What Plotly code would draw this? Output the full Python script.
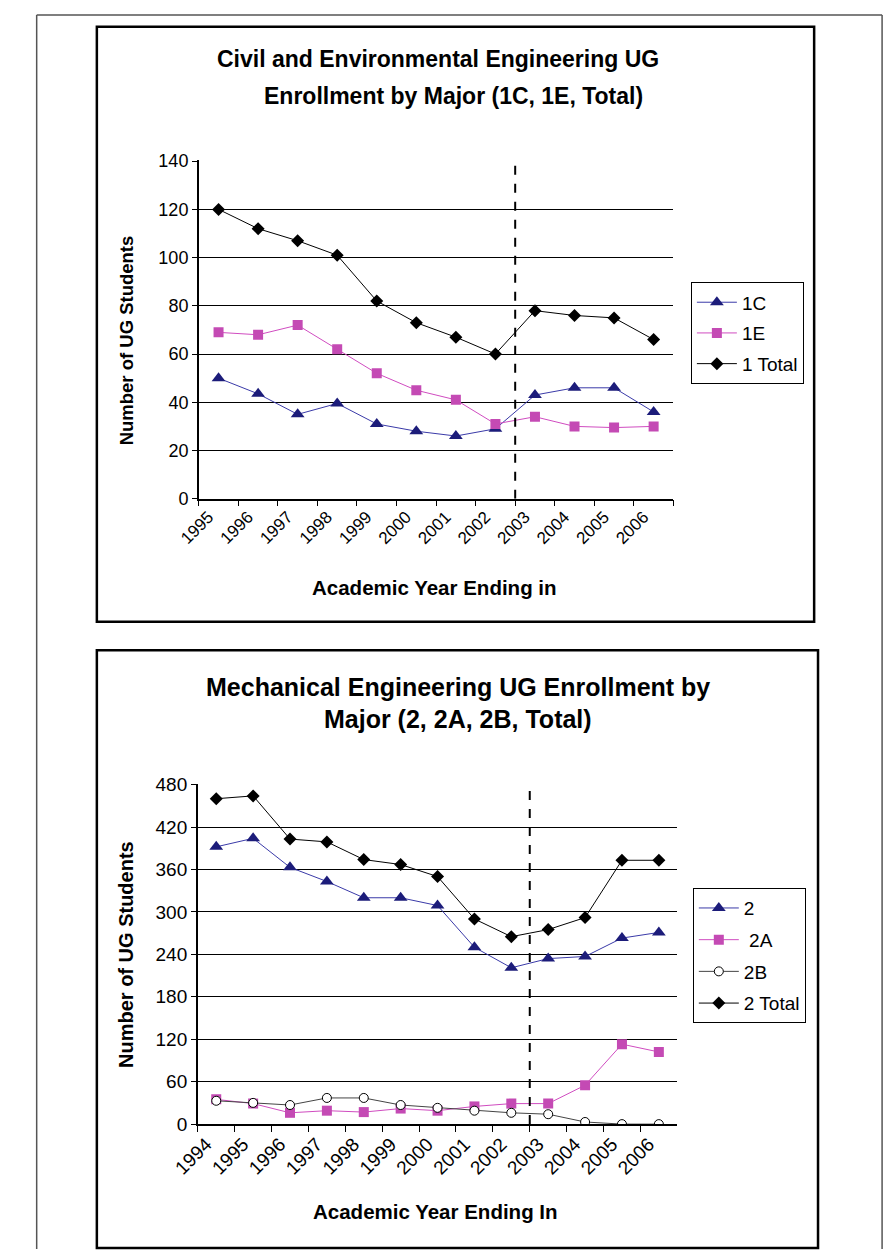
import plotly.graph_objects as go

W, H = 885, 1260

# ---------------- data ----------------
cee_years = ["1995", "1996", "1997", "1998", "1999", "2000", "2001", "2002", "2003", "2004", "2005", "2006"]
cee_1c = [50, 43.5, 35, 39.5, 31, 28, 26, 29, 43, 46, 46, 36]
cee_1e = [69, 68, 72, 62, 52, 45, 41, 31, 34, 30, 29.5, 30]
cee_total = [120, 112, 107, 101, 82, 73, 67, 60, 78, 76, 75, 66]

me_years = ["1994", "1995", "1996", "1997", "1998", "1999", "2000", "2001", "2002", "2003", "2004", "2005", "2006"]
me_2 = [392, 404, 363, 343, 320, 320, 309, 250, 221, 234, 237, 263, 271]
me_2a = [35, 29, 16, 19, 17, 22, 19, 25, 29, 29, 55, 113, 102]
me_2b = [33, 30, 27, 37, 37, 27, 23, 19, 16, 14, 3, 0, 0]
me_total = [460, 464, 403, 399, 374, 367, 350, 290, 265, 275, 292, 373, 373]

cee_ticks = [0, 20, 40, 60, 80, 100, 120, 140]
me_ticks = [0, 60, 120, 180, 240, 300, 360, 420, 480]

FONT = "Liberation Sans, Arial, sans-serif"
BLUE_L, BLUE_M = "#3a3aa8", "#1c1c7a"
PINK_L, PINK_M = "#d04cc0", "#c44ab4"


def px(x):
    return x / W


def py(y):
    return 1 - y / H


fig = go.Figure()

# ---- top chart traces ----
fig.add_trace(go.Scatter(x=cee_years, y=cee_1c, name="1C", mode="lines+markers",
                         line=dict(color=BLUE_L, width=1),
                         marker=dict(symbol="triangle-up", size=12, color=BLUE_M),
                         xaxis="x", yaxis="y", legend="legend", legendgroup="a"))
fig.add_trace(go.Scatter(x=cee_years, y=cee_1e, name="1E", mode="lines+markers",
                         line=dict(color=PINK_L, width=1),
                         marker=dict(symbol="square", size=10, color=PINK_M),
                         xaxis="x", yaxis="y", legend="legend", legendgroup="b"))
fig.add_trace(go.Scatter(x=cee_years, y=cee_total, name="1 Total", mode="lines+markers",
                         line=dict(color="black", width=1),
                         marker=dict(symbol="diamond", size=10, color="black"),
                         xaxis="x", yaxis="y", legend="legend", legendgroup="c"))

# ---- bottom chart traces ----
fig.add_trace(go.Scatter(x=me_years, y=me_2, name="2", mode="lines+markers",
                         line=dict(color=BLUE_L, width=1),
                         marker=dict(symbol="triangle-up", size=12, color=BLUE_M),
                         xaxis="x2", yaxis="y2", legend="legend2", legendgroup="d"))
fig.add_trace(go.Scatter(x=me_years, y=me_2a, name=" 2A", mode="lines+markers",
                         line=dict(color=PINK_L, width=1),
                         marker=dict(symbol="square", size=10, color=PINK_M),
                         xaxis="x2", yaxis="y2", legend="legend2", legendgroup="e"))
fig.add_trace(go.Scatter(x=me_years, y=me_2b, name="2B", mode="lines+markers",
                         line=dict(color="#444444", width=1),
                         marker=dict(symbol="circle", size=9, color="white",
                                     line=dict(color="black", width=1)),
                         xaxis="x2", yaxis="y2", legend="legend2", legendgroup="f"))
fig.add_trace(go.Scatter(x=me_years, y=me_total, name="2 Total", mode="lines+markers",
                         line=dict(color="black", width=1),
                         marker=dict(symbol="diamond", size=10, color="black"),
                         xaxis="x2", yaxis="y2", legend="legend2", legendgroup="g"))

xcommon = dict(type="category", tickson="boundaries", ticks="outside", ticklen=6,
               tickcolor="black", tickangle=-45, showline=True, linecolor="black",
               linewidth=1.5, showgrid=False, zeroline=False, fixedrange=True)
ycommon = dict(showgrid=True, gridcolor="black", gridwidth=1, showline=True,
               linecolor="black", linewidth=1.5, ticks="outside", ticklen=5,
               tickcolor="black", zeroline=False, fixedrange=True)

fig.update_layout(
    width=W, height=H, margin=dict(l=0, r=0, t=0, b=0),
    paper_bgcolor="white", plot_bgcolor="white",
    font=dict(family=FONT, color="black"),
    xaxis=dict(domain=[px(178), px(667)], anchor="y", range=[-0.5, 11.5],
               tickfont=dict(size=17, family=FONT), ticklabelshift=-10, **xcommon),
    yaxis=dict(domain=[py(497), py(153)], anchor="x", range=[0, 140.3], tickvals=cee_ticks,
               tickfont=dict(size=18, family=FONT), **ycommon),
    xaxis2=dict(domain=[px(177), px(671)], anchor="y2", range=[-0.5, 12.5],
                tickfont=dict(size=19, family=FONT), ticklabelshift=-10, **xcommon),
    yaxis2=dict(domain=[py(1133), py(787)], anchor="x2", range=[0, 481], tickvals=me_ticks,
                tickfont=dict(size=19, family=FONT), **ycommon),
    legend=dict(x=px(685), y=py(277), xanchor="left", yanchor="top",
                bordercolor="black", borderwidth=1, bgcolor="white",
                font=dict(size=19, family=FONT), traceorder="grouped",
                tracegroupgap=3, itemwidth=40),
    legend2=dict(x=px(687), y=py(893), xanchor="left", yanchor="top",
                 bordercolor="black", borderwidth=1, bgcolor="white",
                 font=dict(size=19, family=FONT), traceorder="grouped",
                 tracegroupgap=4, itemwidth=40),
    showlegend=True,
)

shapes = [
    # outer page frame
    dict(type="line", xref="paper", yref="paper", x0=px(11), x1=px(11), y0=0, y1=py(5),
         line=dict(color="#555555", width=1.5)),
    dict(type="line", xref="paper", yref="paper", x0=px(882), x1=px(882), y0=0, y1=py(5),
         line=dict(color="#555555", width=1.5)),
    dict(type="line", xref="paper", yref="paper", x0=px(11), x1=px(882), y0=py(5), y1=py(5),
         line=dict(color="#555555", width=1.5)),
    # chart boxes
    dict(type="rect", xref="paper", yref="paper", x0=px(73), x1=px(812), y0=py(622), y1=py(17),
         line=dict(color="black", width=2.5)),
    dict(type="rect", xref="paper", yref="paper", x0=px(73), x1=px(816), y0=py(1259), y1=py(651),
         line=dict(color="black", width=2.5)),
    # dashed separators (boundary before 2003)
    dict(type="line", xref="x", yref="y", x0=7.5, x1=7.5, y0=0, y1=140,
         line=dict(color="black", width=2, dash="dash")),
    dict(type="line", xref="x2", yref="y2", x0=8.5, x1=8.5, y0=0, y1=475,
         line=dict(color="black", width=2, dash="dash")),
]
fig.update_layout(shapes=shapes)

def ann(text, x, y, size, bold=True, angle=0, family=FONT):
    return dict(text=f"<b>{text}</b>" if bold else text, x=px(x), y=py(y), xref="paper", yref="paper",
                showarrow=False, xanchor="center", yanchor="middle", textangle=angle,
                font=dict(size=size, family=family, color="black"))

annotations = [
    ann("Civil and Environmental Engineering UG", 424, 50, 23),
    ann("Enrollment by Major (1C, 1E, Total)", 440, 87, 23),
    ann("Number of UG Students", 103, 336, 18.5, angle=-90),
    ann("Academic Year Ending in", 421, 587, 20.5),
    ann("Mechanical Engineering UG Enrollment by", 445, 688, 25),
    ann("Major (2, 2A, 2B, Total)", 445, 721, 25),
    ann("Number of UG Students", 103, 960, 20, angle=-90),
    ann("Academic Year Ending In", 422, 1222, 20.5),
]
fig.update_layout(annotations=annotations)

fig.write_html("out.html", config={"displayModeBar": False},
               post_script="document.body.style.margin='0';document.body.style.overflow='hidden';")
